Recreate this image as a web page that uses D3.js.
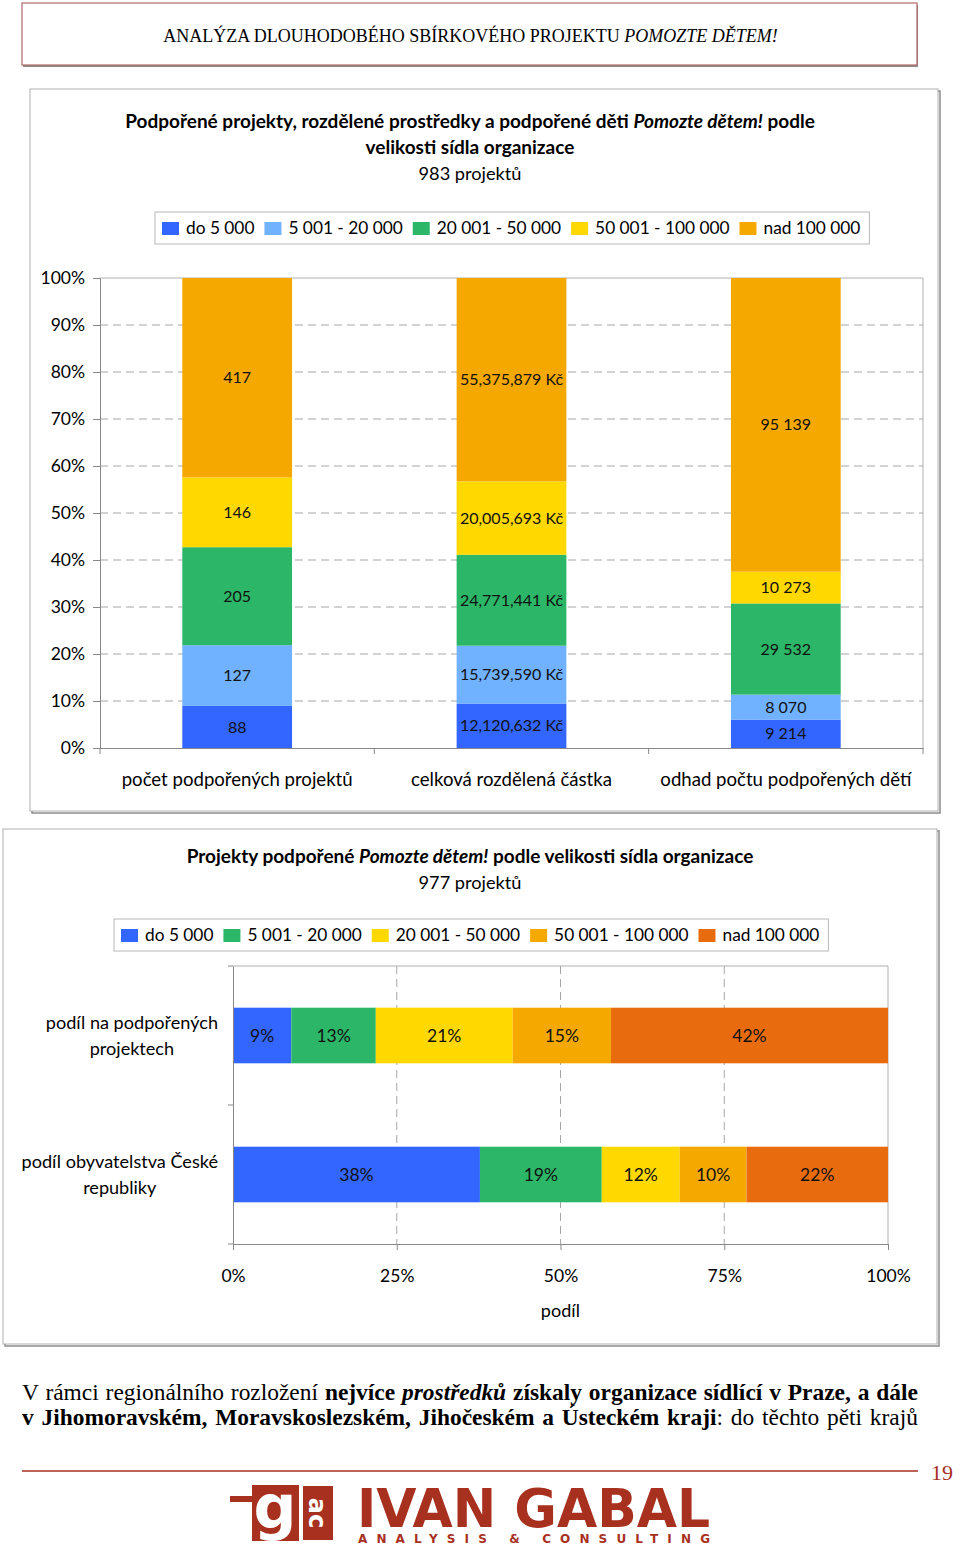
<!DOCTYPE html>
<html><head><meta charset="utf-8">
<script src="https://cdn.jsdelivr.net/npm/d3@7"></script>
<style>
body{margin:0;background:#fff}
svg{display:block}
.sans{font-family:Lato,"Open Sans","Noto Sans",sans-serif}
.serif{font-family:"Liberation Serif","DejaVu Serif",serif}
</style>
</head><body>
<svg id="page" width="960" height="1548"></svg>
<script>
// ---------------- DATA ----------------
const sizeClasses1 = ["do 5 000", "5 001 - 20 000", "20 001 - 50 000", "50 001 - 100 000", "nad 100 000"];
const measures = ["počet podpořených projektů", "celková rozdělená částka", "odhad počtu podpořených dětí"];
const projectsCount = [88, 127, 205, 146, 417];
const amountCZK = [12120632, 15739590, 24771441, 20005693, 55375879];
const childrenCount = [9214, 8070, 29532, 10273, 95139];
const yTicks1 = [0, 0.1, 0.2, 0.3, 0.4, 0.5, 0.6, 0.7, 0.8, 0.9, 1.0];

const sizeClasses2 = ["do 5 000", "5 001 - 20 000", "20 001 - 50 000", "50 001 - 100 000", "nad 100 000"];
const rowLabels = [["podíl na podpořených", "projektech"], ["podíl obyvatelstva České", "republiky"]];
const shareProjects = [8.9, 12.9, 20.9, 15.0, 42.3];
const sharePopulation = [37.7, 18.6, 11.9, 10.2, 21.6];
const xTicks2 = [0, 0.25, 0.5, 0.75, 1.0];

const colors1 = ["#3366ff", "#70b2ff", "#2bb767", "#ffd800", "#f5a800"];
const colors2 = ["#3366ff", "#2bb767", "#ffd800", "#f5a800", "#e86c0e"];

// ---------------- HELPERS ----------------
const svg = d3.select("#page");
const RED = "#a8301f";

function box(x, y, w, h, stroke, shadow) {
  svg.append("rect").attr("x", x + 2).attr("y", y + 2).attr("width", w).attr("height", h)
    .attr("fill", "none").attr("stroke", shadow).attr("stroke-width", 1.5);
  svg.append("rect").attr("x", x).attr("y", y).attr("width", w).attr("height", h)
    .attr("fill", "#fff").attr("stroke", stroke).attr("stroke-width", 1);
}
function fitFont(t, target) {
  const fs = parseFloat(t.attr("font-size"));
  const w = t.node().getComputedTextLength();
  t.attr("font-size", (fs * target / w).toFixed(2));
}
function richText(g, x, y, parts, cls, size, anchor) {
  const t = g.append("text").attr("class", cls).attr("x", x).attr("y", y)
    .attr("font-size", size).attr("text-anchor", anchor || "middle").attr("fill", "#000");
  parts.forEach(p => t.append("tspan").text(p[0])
    .attr("font-weight", p[1] || "normal").attr("font-style", p[2] || "normal"));
  return t;
}
function legend(x, y, keys, colors, size) {
  const g = svg.append("g");
  const frame = g.append("rect").attr("x", x).attr("y", y).attr("height", 32)
    .attr("fill", "#fff").attr("stroke", "#b8b8b8");
  let cx = x + 7;
  keys.forEach((k, i) => {
    g.append("rect").attr("x", cx).attr("y", y + 10).attr("width", 17).attr("height", 13).attr("fill", colors[i]);
    const t = g.append("text").attr("class", "sans").attr("x", cx + 24).attr("y", y + 16)
      .attr("dy", "0.35em").attr("font-size", size).text(k);
    cx += 24 + t.node().getComputedTextLength() + 10;
  });
  frame.attr("width", cx - x - 1);
}

// ---------------- HEADER ----------------
svg.append("rect").attr("x", 23).attr("y", 5).attr("width", 895).attr("height", 62).attr("fill", "#8a8a8a");
svg.append("rect").attr("x", 22).attr("y", 3).attr("width", 895).attr("height", 62)
  .attr("fill", "#fff").attr("stroke", "#b06a6a").attr("stroke-width", 1.2);
const ht = richText(svg, 470.5, 42, [["ANALÝZA DLOUHODOBÉHO SBÍRKOVÉHO PROJEKTU ", "normal"], ["POMOZTE DĚTEM!", "normal", "italic"]], "serif", 18);
fitFont(ht, 615);

// ---------------- CHART 1 ----------------
box(30, 89, 908, 722, "#b0b0b0", "#8c8c8c");
richText(svg, 470, 128, [["Podpořené projekty, rozdělené prostředky a podpořené děti ", "bold"], ["Pomozte dětem!", "bold", "italic"], [" podle", "bold"]], "sans", 19);
richText(svg, 470, 154, [["velikosti sídla organizace", "bold"]], "sans", 19);
richText(svg, 470, 180, [["983 projektů", "normal"]], "sans", 18.2);

legend(155, 212, sizeClasses1, colors1, 17.3);

const L1 = 100, R1 = 923, T1 = 278, B1 = 748;
const x1 = d3.scaleBand().domain(measures).range([L1, R1]).paddingInner(0.6).paddingOuter(0.3);
const y1 = d3.scaleLinear().domain([0, 1]).range([B1, T1]);
const g1 = svg.append("g");

// gridlines
g1.selectAll(".grid").data(yTicks1.filter(t => t > 0 && t < 1)).join("line")
  .attr("x1", L1).attr("x2", R1).attr("y1", d => y1(d)).attr("y2", d => y1(d))
  .attr("stroke", "#a6a6a6").attr("stroke-dasharray", "8,5");
// plot border top/right
g1.append("line").attr("x1", L1).attr("x2", R1).attr("y1", T1).attr("y2", T1).attr("stroke", "#b0b0b0");
g1.append("line").attr("x1", R1).attr("x2", R1).attr("y1", T1).attr("y2", B1).attr("stroke", "#b0b0b0");

const series1 = [projectsCount, amountCZK, childrenCount];
const rows1 = measures.map((m, j) => {
  const o = { measure: m };
  sizeClasses1.forEach((s, k) => o[s] = series1[j][k]);
  return o;
});
const stack1 = d3.stack().keys(sizeClasses1).offset(d3.stackOffsetExpand)(rows1);
const spaceLocale = d3.formatLocale({ decimal: ",", thousands: "\u00a0", grouping: [3], currency: ["", ""] });
const fmts = [d3.format("d"), v => d3.format(",")(v) + " Kč", spaceLocale.format(",d")];

stack1.forEach((layer, k) => {
  g1.append("g").selectAll("rect").data(layer).join("rect")
    .attr("x", d => x1(d.data.measure)).attr("width", x1.bandwidth())
    .attr("y", d => y1(d[1])).attr("height", d => y1(d[0]) - y1(d[1]))
    .attr("fill", colors1[k]);
});
stack1.forEach((layer, k) => {
  g1.append("g").selectAll("text").data(layer).join("text").attr("class", "sans")
    .attr("x", d => x1(d.data.measure) + x1.bandwidth() / 2)
    .attr("y", d => (y1(d[0]) + y1(d[1])) / 2).attr("dy", "0.35em")
    .attr("text-anchor", "middle").attr("font-size", 16).attr("fill", "#111")
    .text(d => fmts[measures.indexOf(d.data.measure)](d.data[layer.key]));
});

// y axis
const yAx = g1.append("g").attr("transform", `translate(${L1},0)`)
  .call(d3.axisLeft(y1).tickValues(yTicks1).tickFormat(d3.format(".0%")).tickSize(7).tickPadding(8));
yAx.select(".domain").attr("stroke", "#888");
yAx.selectAll(".tick line").attr("stroke", "#888");
yAx.selectAll(".tick text").attr("class", "sans").attr("font-size", 17.5).attr("fill", "#000");

// x axis
const xAx = g1.append("g").attr("transform", `translate(0,${B1})`)
  .call(d3.axisBottom(x1).tickSize(0).tickPadding(25));
xAx.select(".domain").attr("stroke", "#888");
xAx.selectAll(".tick text").attr("class", "sans").attr("font-size", 18.6).attr("fill", "#000");
const step = (R1 - L1) / measures.length;
d3.range(measures.length + 1).forEach(i => {
  g1.append("line").attr("x1", L1 + i * step).attr("x2", L1 + i * step)
    .attr("y1", B1).attr("y2", B1 + 6).attr("stroke", "#888");
});

// ---------------- CHART 2 ----------------
box(3, 829, 934, 515, "#b0b0b0", "#8c8c8c");
richText(svg, 470, 863, [["Projekty podpořené ", "bold"], ["Pomozte dětem!", "bold", "italic"], ["  podle velikosti sídla organizace", "bold"]], "sans", 19);
richText(svg, 470, 889, [["977 projektů", "normal"]], "sans", 18.2);
legend(114, 919, sizeClasses2, colors2, 17.3);

const L2 = 233, R2 = 888, T2 = 966, B2 = 1244;
const rowKeys = rowLabels.map(r => r.join(" "));
const x2 = d3.scaleLinear().domain([0, 1]).range([L2, R2]);
const y2 = d3.scaleBand().domain(rowKeys).range([T2, B2]).paddingInner(0.6).paddingOuter(0.3);
const g2 = svg.append("g");

g2.selectAll(".vgrid").data(xTicks2.filter(t => t > 0 && t < 1)).join("line")
  .attr("x1", d => x2(d)).attr("x2", d => x2(d)).attr("y1", T2).attr("y2", B2)
  .attr("stroke", "#a6a6a6").attr("stroke-dasharray", "8,5");
g2.append("line").attr("x1", L2).attr("x2", R2).attr("y1", T2).attr("y2", T2).attr("stroke", "#b0b0b0");
g2.append("line").attr("x1", R2).attr("x2", R2).attr("y1", T2).attr("y2", B2).attr("stroke", "#b0b0b0");

const series2 = [shareProjects, sharePopulation];
const rows2 = rowKeys.map((r, j) => {
  const o = { row: r };
  sizeClasses2.forEach((s, k) => o[s] = series2[j][k]);
  return o;
});
const stack2 = d3.stack().keys(sizeClasses2).offset(d3.stackOffsetExpand)(rows2);
stack2.forEach((layer, k) => {
  g2.append("g").selectAll("rect").data(layer).join("rect")
    .attr("y", d => y2(d.data.row)).attr("height", y2.bandwidth())
    .attr("x", d => x2(d[0])).attr("width", d => x2(d[1]) - x2(d[0]))
    .attr("fill", colors2[k]);
});
stack2.forEach((layer, k) => {
  g2.append("g").selectAll("text").data(layer).join("text").attr("class", "sans")
    .attr("x", d => (x2(d[0]) + x2(d[1])) / 2)
    .attr("y", d => y2(d.data.row) + y2.bandwidth() / 2).attr("dy", "0.35em")
    .attr("text-anchor", "middle").attr("font-size", 17.5).attr("fill", "#111")
    .text(d => Math.round(d.data[layer.key]) + "%");
});

const xAx2 = g2.append("g").attr("transform", `translate(0,${B2})`)
  .call(d3.axisBottom(x2).tickValues(xTicks2).tickFormat(d3.format(".0%")).tickSize(6).tickPadding(20));
xAx2.select(".domain").attr("stroke", "#888");
xAx2.selectAll(".tick line").attr("stroke", "#888");
xAx2.selectAll(".tick text").attr("class", "sans").attr("font-size", 17.5).attr("fill", "#000");

const yAx2 = g2.append("g").attr("transform", `translate(${L2},0)`)
  .call(d3.axisLeft(y2).tickSize(0).tickFormat(""));
yAx2.select(".domain").attr("stroke", "#888");
[T2, (T2 + B2) / 2, B2].forEach(yy => g2.append("line").attr("x1", L2 - 5).attr("x2", L2)
  .attr("y1", yy).attr("y2", yy).attr("stroke", "#888"));

rowLabels.forEach((lines, j) => {
  const cy = y2(rowKeys[j]) + y2.bandwidth() / 2;
  const ts = lines.map((ln, i) => g2.append("text").attr("class", "sans")
    .attr("x", 0).attr("y", cy + (i - (lines.length - 1) / 2) * 26).attr("dy", "0.35em")
    .attr("text-anchor", "middle").attr("font-size", 18.1).text(ln));
  const maxW = d3.max(ts, t => t.node().getComputedTextLength());
  ts.forEach(t => t.attr("x", 218 - maxW / 2));
});

g2.append("text").attr("class", "sans").attr("x", (L2 + R2) / 2).attr("y", 1311).attr("dy", "0.35em")
  .attr("text-anchor", "middle").attr("font-size", 18).text("podíl");

// ---------------- PARAGRAPH ----------------
const para = [
  [["V rámci regionálního rozložení ", "normal"], ["nejvíce ", "bold"], ["prostředků", "bold", "italic"], [" získaly organizace sídlící v Praze, a dále", "bold"]],
  [["v Jihomoravském, Moravskoslezském, Jihočeském a Ústeckém kraji", "bold"], [": do těchto pěti krajů", "normal"]]
];
const paraTexts = para.map((parts, i) => richText(svg, 22, 1400 + i * 25, parts, "serif", 20, "start"));
const paraSize = d3.min(paraTexts, t => 20 * 884 / t.node().getComputedTextLength());
paraTexts.forEach((t, i) => {
  t.attr("font-size", paraSize.toFixed(2));
  const w = t.node().getComputedTextLength();
  const spaces = para[i].map(p => p[0]).join("").split(" ").length - 1;
  t.attr("word-spacing", ((896 - w) / spaces).toFixed(2));
});

// ---------------- FOOTER ----------------
svg.append("line").attr("x1", 22).attr("x2", 918).attr("y1", 1471).attr("y2", 1471).attr("stroke", RED).attr("stroke-width", 1.5);
svg.append("text").attr("class", "serif").attr("x", 942).attr("y", 1480).attr("text-anchor", "middle")
  .attr("font-size", 22).attr("fill", RED).text("19");

// logo
svg.append("rect").attr("x", 230).attr("y", 1496).attr("width", 24).attr("height", 6).attr("fill", RED);
svg.append("rect").attr("x", 252).attr("y", 1485).attr("width", 47).attr("height", 56).attr("fill", RED);
svg.append("text").attr("x", 275).attr("y", 1528).attr("text-anchor", "middle")
  .style("font-family", "'DejaVu Sans'").attr("font-weight", "bold").attr("font-size", 60).attr("fill", "#fff").text("g");
svg.append("rect").attr("x", 303).attr("y", 1486).attr("width", 30).attr("height", 54).attr("fill", RED);
svg.append("text").attr("transform", "translate(309,1513) rotate(90)").attr("text-anchor", "middle")
  .style("font-family", "'DejaVu Sans'").attr("font-weight", "bold").attr("font-size", 24).attr("fill", "#fff").text("ac");
svg.append("text").attr("x", 357).attr("y", 1527)
  .style("font-family", "'DejaVu Sans Condensed','DejaVu Sans'").attr("font-weight", "bold").attr("font-size", 54).attr("fill", RED)
  .attr("textLength", 353).attr("lengthAdjust", "spacingAndGlyphs").text("IVAN GABAL");
svg.append("text").attr("x", 358).attr("y", 1543)
  .style("font-family", "'DejaVu Sans'").attr("font-weight", "bold").attr("font-size", 12).attr("fill", RED)
  .attr("textLength", 352).attr("lengthAdjust", "spacing").text("ANALYSIS & CONSULTING");
</script>
</body></html>
